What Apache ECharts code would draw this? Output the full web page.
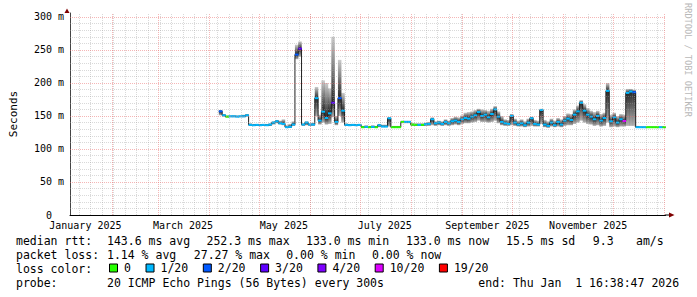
<!DOCTYPE html>
<html><head><meta charset="utf-8">
<script src="https://cdn.jsdelivr.net/npm/echarts@6/dist/echarts.min.js"></script>
<style>html,body{margin:0;padding:0;background:#fff}#c{width:697px;height:297px}</style>
</head><body><div id="c"></div>
<script>
const DAY = 86400000;
const xStart = Date.UTC(2025, 0, 6, 16, 38, 47);
const xEnd = Date.UTC(2026, 0, 1, 16, 38, 47);
const binStart = Date.UTC(2025, 3, 6, 16, 0, 0);
const binDays = 2;

const monthLabels = ['January 2025', 'March 2025', 'May 2025', 'July 2025', 'September 2025', 'November 2025'];
const monthLabelDates = ['2025-01-16', '2025-03-16', '2025-05-16', '2025-07-16', '2025-09-16', '2025-11-16'];
const monthGridDates = ['2025-02-01', '2025-03-01', '2025-04-01', '2025-05-01', '2025-06-01', '2025-07-01',
  '2025-08-01', '2025-09-01', '2025-10-01', '2025-11-01', '2025-12-01', '2026-01-01'];
const firstWeekDate = '2025-01-12';
const yTickValues = [0, 50, 100, 150, 200, 250, 300];

// median RTT (ms) per 2-day bin
const medianMs = [
  157, 151, 149, 149.5, 149.5, 149, 149.5, 149.5, 151, 136.5,
  136, 136.5, 136, 136.5, 136, 137, 140, 142, 139, 138,
  133, 133.5, 137, 243, 252, 137, 140, 137, 137, 177,
  143, 156.5, 147, 154, 170, 141, 177, 158, 136.5, 136,
  136.5, 136, 136.5, 133, 133.5, 133, 133.5, 133, 136, 134,
  134, 146.5, 133, 133, 133, 141, 141, 141, 137, 136.5,
  136.5, 136.5, 137.5, 138, 145, 139, 140, 138, 141, 139,
  142, 143, 141, 145, 147, 146, 149, 151, 156, 150,
  152, 148, 153, 160, 149, 141, 139, 138, 150, 140,
  137, 139, 136, 140, 146.5, 138, 137, 159, 137, 135,
  140, 136, 141, 137, 143, 146, 144, 152, 157, 170,
  158, 152, 149, 145, 150, 143, 147, 188, 142, 148,
  140, 145, 142.5, 185, 187, 186, 133, 133, 133, 133,
  133, 133, 133, 133, 133
];
// lost pings out of 20 per bin
const lossPings = [
  2, 1, 0, 1, 1, 1, 1, 1, 1, 1,
  1, 1, 1, 1, 1, 1, 1, 1, 1, 1,
  1, 1, 1, 2, 3, 1, 1, 1, 1, 1,
  1, 1, 1, 1, 3, 1, 2, 1, 1, 1,
  1, 1, 1, 0, 1, 0, 1, 0, 1, 1,
  1, 1, 0, 0, 0, 0, 1, 1, 0, 0,
  1, 0, 1, 1, 1, 1, 1, 1, 1, 1,
  1, 1, 1, 1, 1, 1, 1, 1, 1, 1,
  1, 1, 1, 1, 1, 1, 1, 1, 1, 1,
  1, 1, 1, 1, 1, 1, 1, 1, 1, 1,
  1, 1, 1, 1, 1, 1, 1, 1, 1, 1,
  1, 1, 1, 1, 1, 1, 1, 1, 1, 1,
  1, 1, 10, 1, 1, 2, 1, 1, 1, 0,
  0, 0, 0, 1, 0
];
// smoke (ping spread) lower / upper edge, ms
const smokeLowMs = [
  151, 149, 148, 148, 148, 148, 148, 148, 149, 135,
  135, 135, 135, 135, 135, 135, 137, 139, 137, 136,
  132, 132, 135, 236, 240, 135, 136, 135, 135, 150,
  137, 140, 137, 138, 148, 136, 150, 140, 135, 135,
  135, 135, 135, 132, 132, 132, 132, 132, 133, 133,
  133, 134, 132, 132, 132, 139, 139, 139, 135, 135,
  135, 135, 135, 135, 136, 135, 136, 135, 136, 135,
  136, 137, 136, 138, 139, 139, 140, 141, 143, 141,
  141, 140, 141, 143, 139, 136, 135, 135, 136, 135,
  134, 134, 133, 134, 135, 134, 134, 138, 133, 132,
  134, 133, 134, 133, 135, 136, 136, 138, 140, 143,
  140, 138, 137, 135, 136, 134, 135, 140, 133, 134,
  133, 134, 134, 135, 135, 135, 132, 132, 132, 132,
  132, 132, 132, 132, 132
];
const smokeHighMs = [
  159, 153, 151, 151, 151, 151, 151, 152, 153, 139,
  138, 138, 138, 138, 138, 139, 142, 144, 143, 145,
  136, 138, 142, 258, 263, 139, 142, 139, 140, 194,
  152, 204, 200, 192, 270, 150, 235, 185, 139, 138,
  138, 138, 138, 135, 136, 135, 136, 135, 138, 137,
  137, 148, 135, 135, 135, 143, 143, 143, 139, 139,
  139, 139, 140, 141, 148, 142, 143, 142, 145, 143,
  147, 149, 148, 151, 155, 156, 157, 159, 161, 160,
  159, 158, 161, 165, 157, 150, 145, 144, 153, 146,
  143, 145, 142, 146, 149, 144, 143, 161, 144, 142,
  146, 143, 147, 145, 150, 154, 153, 160, 166, 174,
  168, 162, 158, 156, 158, 153, 155, 200, 152, 155,
  150, 153, 152, 191, 191, 190, 135, 134, 134, 134,
  134, 134, 134, 134, 134
];

const lossThresholds = [0, 1, 2, 3, 4, 10, 19];
const lossNames = ['0', '1/20', '2/20', '3/20', '4/20', '10/20', '19/20'];
const lossColors = ['#26ff00', '#00b8ff', '#0059ff', '#5e00ff', '#7e00ff', '#dd00ff', '#ff0000'];

const statLines = [
  ['median rtt:', '143.6 ms avg', '252.3 ms max', '133.0 ms min', '133.0 ms now', '15.5 ms sd', '9.3', 'am/s'],
  ['packet loss:', '1.14 % avg', '27.27 % max', '0.00 % min', '0.00 % now'],
  ['loss color:'],
  ['probe:', '20 ICMP Echo Pings (56 Bytes) every 300s', 'end: Thu Jan  1 16:38:47 2026']
];

// ---- layout (pixels) ----
const MONO = '"DejaVu Sans Mono", monospace';
const statX = [
  [16, 107, 206.5, 306, 406, 506, 592.8, 636],
  [16, 107, 193.8, 286.2, 372],
  [16],
  [16, 107, 478.3]
];
const statY = [241, 255, 269, 283];

const ts = d => Date.parse(d + 'T00:00:00Z');
const labelTimes = monthLabelDates.map(ts);

const bins = medianMs.map((m, i) => {
  const t0 = binStart + i * binDays * DAY;
  const t1 = t0 + binDays * DAY;
  let lvl = 0;
  lossThresholds.forEach((th, k) => { if (lossPings[i] >= th) lvl = k; });
  return { t0, t1, m, lo: smokeLowMs[i], hi: smokeHighMs[i], lvl };
});

// grid lines as marker lines
const gridLines = [];
const minorStyle = { color: 'rgba(160,160,160,0.4)', width: 1, type: [1, 1] };
const majorStyle = { color: 'rgba(235,110,110,0.5)', width: 1, type: [1, 1] };
for (let t = ts(firstWeekDate); t < xEnd; t += 7 * DAY) gridLines.push({ xAxis: t, lineStyle: minorStyle });
for (let v = 10; v <= 300; v += 10) if (v % 50) gridLines.push({ yAxis: v, lineStyle: minorStyle });
monthGridDates.forEach(d => gridLines.push({ xAxis: ts(d), lineStyle: majorStyle }));
yTickValues.forEach(v => { if (v > 0) gridLines.push({ yAxis: v, lineStyle: majorStyle }); });

function smokeItem(params, api) {
  const t0 = api.value(0), t1 = api.value(1), med = api.value(2), lo = api.value(3), hi = api.value(4);
  const pTop = api.coord([t0, hi]);
  const pBot = api.coord([t1, lo]);
  const pMed = api.coord([t0, med]);
  const h = Math.max(pBot[1] - pTop[1], 0.6);
  let m = (pMed[1] - pTop[1]) / h;
  m = Math.min(Math.max(m, 0.01), 0.99);
  return {
    type: 'rect',
    shape: { x: pTop[0], y: pTop[1], width: pBot[0] - pTop[0] + 0.2, height: h },
    style: {
      fill: new echarts.graphic.LinearGradient(0, 0, 0, 1, [
        { offset: 0, color: 'rgba(0,0,0,0.2)' },
        { offset: m, color: 'rgba(0,0,0,0.85)' },
        { offset: 1, color: 'rgba(0,0,0,0.3)' }
      ])
    }
  };
}
function dashItem(params, api) {
  const p0 = api.coord([api.value(0), api.value(2)]);
  const p1 = api.coord([api.value(1), api.value(2)]);
  return {
    type: 'rect',
    shape: { x: p0[0], y: p0[1] - 1, width: p1[0] - p0[0] + 0.3, height: 2 },
    style: { fill: api.visual('color') }
  };
}

const series = [
  {
    name: 'grid', type: 'line', data: [], z: 1, silent: true,
    markLine: { silent: true, symbol: 'none', animation: false, label: { show: false }, data: gridLines }
  },
  {
    name: 'smoke', type: 'custom', z: 2, renderItem: smokeItem, clip: true,
    encode: { x: [0, 1], y: [3, 4] },
    data: bins.map(b => [b.t0, b.t1, b.m, b.lo, b.hi])
  },
  {
    name: 'median', type: 'line', z: 3, step: 'end', symbol: 'none', silent: true,
    lineStyle: { color: '#202020', width: 1 },
    data: bins.map(b => [b.t0, b.m]).concat([[bins[bins.length - 1].t1, bins[bins.length - 1].m]])
  }
];
lossNames.forEach((name, k) => {
  series.push({
    name, type: 'custom', z: 4, renderItem: dashItem, clip: true,
    itemStyle: { color: lossColors[k] },
    encode: { x: [0, 1], y: 2 },
    data: bins.filter(b => b.lvl === k).map(b => [b.t0, b.t1, b.m])
  });
});

const graphics = [];
statLines.forEach((row, r) => row.forEach((txt, c) => {
  graphics.push({ type: 'text', x: statX[r][c], y: statY[r], silent: true,
    style: { text: txt, font: '11.5px ' + MONO, fill: '#000', align: 'left', verticalAlign: 'middle' } });
}));
graphics.push({ type: 'text', x: 688, y: 60, rotation: -Math.PI / 2, silent: true,
  style: { text: 'RRDTOOL / TOBI OETIKER', font: '8.6px ' + MONO, fill: '#b8b8b8', align: 'center', verticalAlign: 'middle' } });
graphics.push({ type: 'polygon', silent: true, shape: { points: [[669, 212.5], [674.5, 215], [669, 217.5]] }, style: { fill: '#7f0000' } });
graphics.push({ type: 'line', silent: true, shape: { x1: 665, y1: 215, x2: 669, y2: 215 }, style: { stroke: '#000', lineWidth: 1 } });
graphics.push({ type: 'polygon', silent: true, shape: { points: [[64.5, 13], [67, 8.5], [69.5, 13]] }, style: { fill: '#7f0000' } });

const chart = echarts.init(document.getElementById('c'), null, { renderer: 'svg' });
chart.setOption({
  animation: false,
  backgroundColor: '#fff',
  grid: { left: 67, right: 31.5, top: 13, bottom: 82, containLabel: false },
  xAxis: {
    type: 'value', min: xStart, max: xEnd,
    axisLine: { show: true, onZero: false, lineStyle: { color: '#000', width: 1 } },
    axisTick: { show: false },
    splitLine: { show: false },
    axisLabel: {
      customValues: labelTimes,
      hideOverlap: false,
      margin: 5, fontFamily: MONO, fontSize: 10, color: '#000',
      formatter: v => {
        let best = -1, bd = Infinity;
        labelTimes.forEach((t, i) => { const d = Math.abs(t - v); if (d < bd) { bd = d; best = i; } });
        return bd < DAY ? monthLabels[best] : '';
      }
    }
  },
  yAxis: {
    type: 'value', min: 0, max: 306, interval: 50,
    axisLine: { show: true, lineStyle: { color: '#444', width: 1 } },
    axisTick: { show: false },
    splitLine: { show: false },
    name: 'Seconds', nameLocation: 'middle', nameRotate: 90, nameGap: 51,
    nameTextStyle: { fontFamily: MONO, fontSize: 11, color: '#000' },
    axisLabel: {
      margin: 6, fontFamily: MONO, fontSize: 10, color: '#000',
      formatter: v => (v % 50 !== 0 ? '' : (v === 0 ? '{z|0}' : v + ' m')),
      rich: { z: { fontFamily: MONO, fontSize: 10, color: '#000', padding: [0, 12, 0, 0] } }
    }
  },
  legend: {
    left: 109, top: 262, padding: 0, orient: 'horizontal',
    itemWidth: 8, itemHeight: 8, itemGap: 14.6, icon: 'rect', selectedMode: false,
    itemStyle: { borderColor: '#000', borderWidth: 1 },
    textStyle: { fontFamily: MONO, fontSize: 11.5, color: '#000', padding: [0, 0, 0, 1.5] },
    data: lossNames
  },
  graphic: graphics,
  series
});
</script></body></html>
